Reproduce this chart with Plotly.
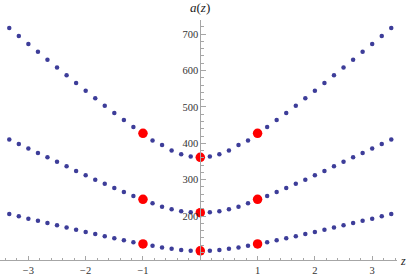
import plotly.graph_objects as go

# z positions (steps of 1/6)
z = [-3.333, -3.167, -3.0, -2.833, -2.667, -2.5, -2.333, -2.167, -2.0, -1.833, -1.667,
     -1.5, -1.333, -1.167, -1.0, -0.833, -0.667, -0.5, -0.333, -0.167, 0.0,
     0.167, 0.333, 0.5, 0.667, 0.833, 1.0, 1.167, 1.333, 1.5, 1.667,
     1.833, 2.0, 2.167, 2.333, 2.5, 2.667, 2.833, 3.0, 3.167, 3.333]

a_low = [206, 199.5, 193, 187, 181, 175, 168.5, 162.5, 156.5, 151, 144.5,
         139, 133.5, 128.5, 123.5, 118.5, 113.5, 110, 107, 105, 104.5,
         105, 107, 110, 113.5, 118.5, 123.5, 128.5, 133.5, 139, 144.5,
         151, 156.5, 162.5, 168.5, 175, 181, 187, 193, 199.5, 206]

a_mid = [410.5, 398, 385.5, 373.5, 361.5, 349, 337, 324, 312, 300, 289,
         277, 266, 255.5, 246, 235, 226, 219, 213, 210.5, 209.5,
         210.5, 213, 219, 226, 235, 246, 255.5, 266, 277, 289,
         300, 312, 324, 337, 349, 361.5, 373.5, 385.5, 398, 410.5]

a_top = [717, 695, 673, 651.5, 629.5, 608, 587, 565.5, 544.5, 523.5, 503,
         483, 464, 445, 427.5, 408, 395, 380, 370, 363.5, 361.5,
         363.5, 370, 380, 395, 408, 427.5, 445, 464, 483, 503,
         523.5, 544.5, 565.5, 587, 608, 629.5, 651.5, 673, 695, 717]

red_z = [-1, 0, 1, -1, 0, 1, -1, 0, 1]
red_a = [123.5, 104.5, 123.5, 246, 209.5, 246, 427.5, 361.5, 427.5]

y_ticks = [200, 300, 400, 500, 600, 700]
x_ticks = [-3, -2, -1, 1, 2, 3]
x_ticktext = ["\u22123", "\u22122", "\u22121", "1", "2", "3"]

blue = "#3d3d99"
fig = go.Figure()
for series in (a_low, a_mid, a_top):
    fig.add_trace(go.Scatter(x=z, y=series, mode="markers",
                             marker=dict(color=blue, size=4.5), showlegend=False))
fig.add_trace(go.Scatter(x=red_z, y=red_a, mode="markers",
                         marker=dict(color="#ff0000", size=9.5), showlegend=False))

xmin, xmax = -3.495, 3.433
axis_col = "#a6a6a6"
serif = "serif"
tickfont = dict(family=serif, size=10.5, color="#333333")

fig.update_layout(
    width=414, height=275,
    margin=dict(l=0, r=17, t=20, b=15, autoexpand=False),
    plot_bgcolor="white", paper_bgcolor="white",
    font=dict(family=serif),
    xaxis=dict(range=[xmin, xmax], showgrid=False, zeroline=False, automargin=False,
               showline=True, linecolor=axis_col, linewidth=1,
               tickmode="array", tickvals=x_ticks, ticktext=x_ticktext,
               ticks="inside", ticklen=4.5, tickcolor=axis_col, tickwidth=1,
               tickfont=tickfont,
               minor=dict(tickmode="linear", tick0=0, dtick=0.2, ticks="inside",
                          ticklen=2.5, tickcolor=axis_col)),
    yaxis=dict(range=[79.4, 738.7], showgrid=False, zeroline=False, automargin=False,
               anchor="free", position=(0 - xmin) / (xmax - xmin),
               showline=True, linecolor=axis_col, linewidth=1,
               tickmode="array", tickvals=y_ticks,
               ticks="inside", ticklen=4.5, tickcolor=axis_col, tickwidth=1,
               tickfont=tickfont,
               minor=dict(tickmode="linear", tick0=0, dtick=20, ticks="inside",
                          ticklen=2.5, tickcolor=axis_col)),
    annotations=[
        dict(text="<i>a</i>(<i>z</i>)", x=0, xref="x", y=1.054, yref="paper",
             xanchor="center", yanchor="middle", showarrow=False,
             font=dict(family=serif, size=13, color="#222222")),
        dict(text="<i>z</i>", x=1.015, xref="paper", y=-0.006, yref="paper",
             xanchor="center", yanchor="middle", showarrow=False,
             font=dict(family=serif, size=12, color="#222222")),
    ],
)

fig.write_html("out.html", config={"displayModeBar": False},
               post_script="document.body.style.margin='0';document.body.style.padding='0';")
